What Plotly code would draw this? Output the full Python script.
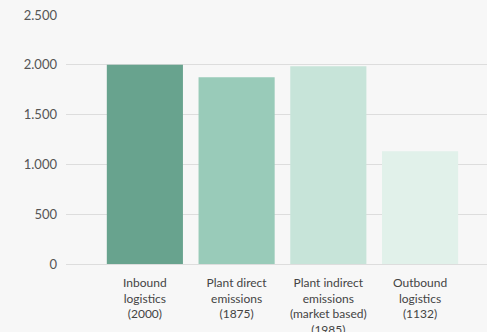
import plotly.graph_objects as go

# Emission sources and their values (t CO2e)
categories = [
    "Inbound<br>logistics<br>(2000)",
    "Plant direct<br>emissions<br>(1875)",
    "Plant indirect<br>emissions<br>(market based)<br>(1985)",
    "Outbound<br>logistics<br>(1132)",
]
values = [2000, 1875, 1985, 1132]
bar_colors = ["#68a38e", "#99cbb9", "#c7e4d9", "#e1f1ea"]
y_ticks = [0, 500, 1000, 1500, 2000, 2500]

fig = go.Figure(
    go.Bar(
        x=list(range(len(categories))),
        y=values,
        marker=dict(color=bar_colors, line=dict(width=0)),
        width=0.83,
        hoverinfo="skip",
    )
)

fig.update_layout(
    width=487,
    height=332,
    margin=dict(l=66, r=0, t=15, b=68),
    paper_bgcolor="#f7f7f7",
    plot_bgcolor="#f7f7f7",
    separators=",.",
    font=dict(family="Lato, sans-serif", size=12, color="#555555"),
    showlegend=False,
    xaxis=dict(
        tickmode="array",
        tickvals=list(range(len(categories))),
        ticktext=categories,
        range=[-0.86, 3.73],
        automargin=False,
        showgrid=False,
        zeroline=False,
        showline=False,
        ticks="",
        ticklabelstandoff=10,
        tickfont=dict(size=12, color="#444444"),
    ),
    yaxis=dict(
        range=[0, 2500],
        tickvals=y_ticks,
        tickformat=",d",
        automargin=False,
        showgrid=True,
        gridcolor="#dddddd",
        gridwidth=1,
        zeroline=True,
        zerolinecolor="#dddddd",
        zerolinewidth=1,
        showline=False,
        ticks="",
        ticklabelstandoff=8,
        tickfont=dict(size=13, color="#555555"),
    ),
)

fig.write_html("out.html")
